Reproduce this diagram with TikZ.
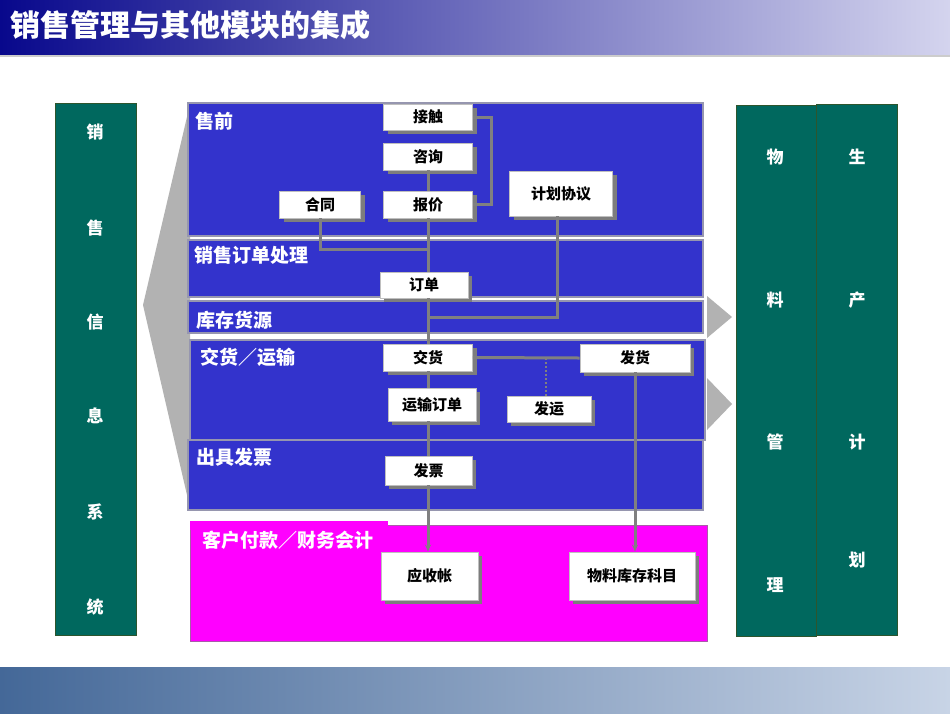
\documentclass[tikz,border=0pt]{standalone}
\usepackage{fontspec}
\newfontfamily\cjk{Noto Sans CJK SC}
\usetikzlibrary{shadows,arrows.meta}
\definecolor{panelblue}{RGB}{51,51,204}
\definecolor{bargreen}{RGB}{0,104,94}
\definecolor{barborder}{RGB}{45,85,45}
\definecolor{lineg}{RGB}{128,128,128}
\definecolor{shadowg}{RGB}{125,125,125}
\definecolor{paneledge}{RGB}{150,150,175}
\definecolor{wedge}{RGB}{178,178,178}
\definecolor{titleL}{RGB}{8,8,140}
\definecolor{titleR}{RGB}{212,212,238}
\definecolor{botL}{RGB}{68,104,152}
\definecolor{botR}{RGB}{200,212,230}
\definecolor{pinkfill}{RGB}{255,0,255}
\definecolor{pinkedge}{RGB}{170,90,170}
\begin{document}
\begin{tikzpicture}[x=1pt,y=-1pt,
  panel/.style={draw=paneledge, line width=1.2pt, fill=panelblue},
  plabel/.style={anchor=west, text=white, font=\cjk\bfseries\fontsize{19}{21}\selectfont, inner sep=0},
  box/.style={draw=gray!50, line width=0.8pt, fill=white, inner sep=0,
    font=\cjk\bfseries\fontsize{15}{17}\selectfont,
    drop shadow={shadow xshift=4pt, shadow yshift=-4pt, fill=shadowg, opacity=1}},
  conn/.style={draw=lineg, line width=3pt},
  gbar/.style={draw=barborder, line width=1pt, fill=bargreen},
  gchar/.style={text=white, font=\cjk\bfseries\fontsize{17}{19}\selectfont, inner sep=0},
  tip/.style={-{Stealth[length=7pt,width=6pt]}}
]
\useasboundingbox (0,0) rectangle (950,713);
\fill[white] (0,0) rectangle (950,713);
% title bar
\shade[left color=titleL, right color=titleR] (0,0) rectangle (950,55);
\fill[gray!40] (0,55) rectangle (950,57);
\node[anchor=west, text=white, font=\cjk\bfseries\fontsize{30}{32}\selectfont, inner sep=0] (title) at (10,25) {销售管理与其他模块的集成};
% bottom bar
\shade[left color=botL, right color=botR] (0,667) rectangle (950,713);

% left bar
\draw[gbar] (55,103) rectangle (136,635);
\node[gchar] (l1) at (95,132) {销};
\node[gchar] (l2) at (95,228) {售};
\node[gchar] (l3) at (95,322) {信};
\node[gchar] (l4) at (95,416) {息};
\node[gchar] (l5) at (95,512) {系};
\node[gchar] (l6) at (95,607) {统};

% wedge
\fill[wedge] (143,305) -- (190,104) -- (190,508) -- cycle;

% panels
\draw[panel] (188,103) rectangle (703,236);
\draw[panel] (188,240) rectangle (703,297);
\draw[panel] (188,301) rectangle (703,333);
\draw[panel] (190,340) rectangle (705,440);
\draw[panel] (188,440) rectangle (703,510);
\draw[draw=pinkedge, line width=1pt, fill=pinkfill] (190,525) rectangle (707,641);
\fill[pinkfill] (190,521) rectangle (388,530);

\node[plabel] (p1) at (195,121) {售前};
\node[plabel] (p2) at (194,255) {销售订单处理};
\node[plabel] (p3) at (196,320) {库存货源};
\node[plabel] (p4) at (200,357) {交货／运输};
\node[plabel] (p5) at (196,457) {出具发票};
\node[plabel] (p6) at (202,540) {客户付款／财务会计};

% right arrows
\fill[wedge] (707,296) -- (732,317) -- (707,338) -- cycle;
\fill[wedge] (707,378) -- (732,404) -- (707,430) -- cycle;

% right bars
\draw[gbar] (736,105) rectangle (816,636);
\draw[gbar] (816,104) rectangle (897,635);
\node[gchar] (r1) at (775,157) {物};
\node[gchar] (r2) at (775,300) {料};
\node[gchar] (r3) at (775,442) {管};
\node[gchar] (r4) at (775,585) {理};
\node[gchar] (s1) at (857,157) {生};
\node[gchar] (s2) at (857,300) {产};
\node[gchar] (s3) at (857,442) {计};
\node[gchar] (s4) at (857,560) {划};

% boxes
\node[box, minimum width=89, minimum height=26] (jiechu) at (428,117) {接触};
\node[box, minimum width=89, minimum height=27] (zixun) at (428,156.5) {咨询};
\node[box, minimum width=89, minimum height=27] (baojia) at (428,204.5) {报价};
\node[box, minimum width=81, minimum height=27] (hetong) at (320,204.5) {合同};
\node[box, minimum width=103, minimum height=45] (jihua) at (561,193.5) {计划协议};
\node[box, minimum width=88, minimum height=26] (dingdan) at (424,285) {订单};
\node[box, minimum width=89, minimum height=27] (jiaohuo) at (428,357.5) {交货};
\node[box, minimum width=110, minimum height=28] (fahuo) at (635,358) {发货};
\node[box, minimum width=88, minimum height=33] (yunshu) at (432,404.5) {运输订单};
\node[box, minimum width=84, minimum height=26] (fayun) at (549,409) {发运};
\node[box, minimum width=87, minimum height=29] (fapiao) at (428.5,470.5) {发票};
\node[box, minimum width=97, minimum height=48] (yingshou) at (429.5,576) {应收帐};
\node[box, minimum width=126, minimum height=48] (wuliao) at (632,576) {物料库存科目};

% junctions
\coordinate (j1) at (428,249);
\coordinate (j2) at (428,317);
\coordinate (j3) at (546,358);
\coordinate (jh) at (557,216);

% connectors
\draw[conn] (jiechu.east) -- ++(19,0) |- (baojia.east);
\draw[conn] (zixun.south) -- (baojia.north);
\draw[conn] (baojia.south) -- (baojia.south |- dingdan.north);
\draw[conn] (hetong.south) |- (j1);
\draw[conn] (jh |- jihua.south) |- (j2);
\draw[conn] (jiaohuo.north |- dingdan.south) -- (jiaohuo.north);
\draw[conn] (jiaohuo.east) -- (fahuo.west);
\draw[lineg, line width=2pt, dotted] (j3) -- (j3 |- fayun.north);
\draw[conn] (jiaohuo.south) -- (jiaohuo.south |- yunshu.north);
\draw[conn] (jiaohuo.south |- yunshu.south) -- (fapiao.north -| jiaohuo.south);
\draw[conn, tip] (fapiao.south -| jiaohuo.south) -- (yingshou.north -| jiaohuo.south);
\draw[conn, tip] (fahuo.south) -- (fahuo.south |- wuliao.north);
\end{tikzpicture}
\end{document}
